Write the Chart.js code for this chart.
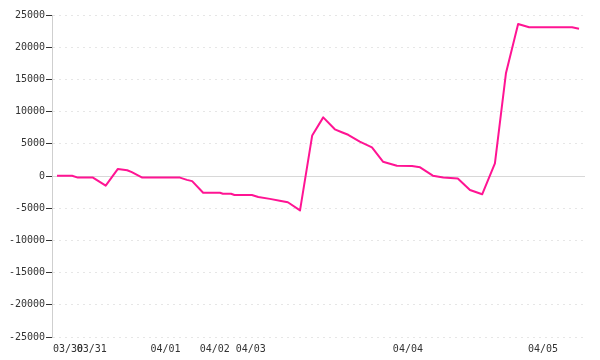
<!DOCTYPE html>
<html>
<head>
<meta charset="utf-8">
<script src="https://cdn.jsdelivr.net/npm/chart.js@4"></script>
<style>
  html, body { margin: 0; padding: 0; background: #fff; }
  canvas { display: block; }
</style>
</head>
<body>
<canvas id="c" width="600" height="360"></canvas>
<script>
// sample position (x) and value of each vertex of the line
const samplePos = [0, 2.6, 3.6, 6.2, 8.4, 10.5, 12.1, 12.9, 14.7, 21.2, 22.4, 23.3, 25.2, 28.1, 28.6, 30.0, 30.6, 33.6, 34.7, 36.7, 38.4, 39.8, 41.9, 44.0, 45.9, 47.9, 49.1, 50.2, 52.2, 54.3, 56.2, 58.6, 61.2, 62.6, 64.8, 66.6, 69.1, 71.2, 73.3, 75.5, 77.4, 79.5, 81.4, 88.8, 90.0];
const values = [50, 50, -250, -250, -1500, 1100, 900, 600, -250, -250, -600, -800, -2600, -2600, -2750, -2750, -2950, -2950, -3250, -3550, -3830, -4080, -5330, 6300, 9100, 7250, 6800, 6400, 5330, 4450, 2220, 1600, 1550, 1350, 50, -230, -400, -2170, -2840, 1970, 15950, 23600, 23090, 23090, 22870];

// x-axis date labels and where they sit
const dateLabels = ['03/30', '03/31', '04/01', '04/02', '04/03', '04/04', '04/05'];
const datePos = [1.9, 6.0, 18.7, 27.2, 33.4, 60.5, 83.8];

// y-axis ticks
const yTicks = [25000, 20000, 15000, 10000, 5000, 0, -5000, -10000, -15000, -20000, -25000];

const points = samplePos.map((x, i) => ({ x: x, y: values[i] }));
const FONT = { family: 'DejaVu Sans Mono', size: 10 };

new Chart(document.getElementById('c'), {
  type: 'line',
  data: {
    datasets: [{
      data: points,
      borderColor: '#ff1493',
      borderWidth: 2,
      borderJoinStyle: 'round',
      pointRadius: 0,
      tension: 0,
      fill: false
    }]
  },
  options: {
    responsive: false,
    animation: false,
    devicePixelRatio: 1,
    layout: { padding: { top: 15, right: 15, left: 0, bottom: 0 } },
    plugins: { legend: { display: false }, tooltip: { enabled: false } },
    scales: {
      x: {
        type: 'linear',
        min: -0.86,
        max: 91.03,
        grid: { display: false, drawTicks: false, tickLength: 0 },
        border: { display: false },
        afterBuildTicks: (s) => { s.ticks = datePos.map(v => ({ value: v })); },
        afterFit: (s) => { s.height = 23; },
        ticks: {
          autoSkip: false,
          maxRotation: 0,
          padding: 6,
          color: '#333',
          font: FONT,
          callback: (v) => { const i = datePos.indexOf(v); return i >= 0 ? dateLabels[i] : ''; }
        }
      },
      y: {
        min: -25000,
        max: 25000,
        afterBuildTicks: (s) => { s.ticks = yTicks.map(v => ({ value: v })); },
        afterFit: (s) => { s.width = 52; },
        grid: {
          color: (c) => (c.tick && c.tick.value === 0) ? '#d8d8d8' : '#e6e6e6',
          tickColor: '#333',
          tickLength: 6,
          lineWidth: 1
        },
        border: {
          display: true,
          width: 1,
          color: '#cfcfcf',
          dash: (c) => (c.tick && c.tick.value === 0) ? [] : [2, 4]
        },
        ticks: {
          padding: 1,
          color: '#333',
          font: FONT,
          callback: (v) => String(v)
        }
      }
    }
  }
});
</script>
</body>
</html>
